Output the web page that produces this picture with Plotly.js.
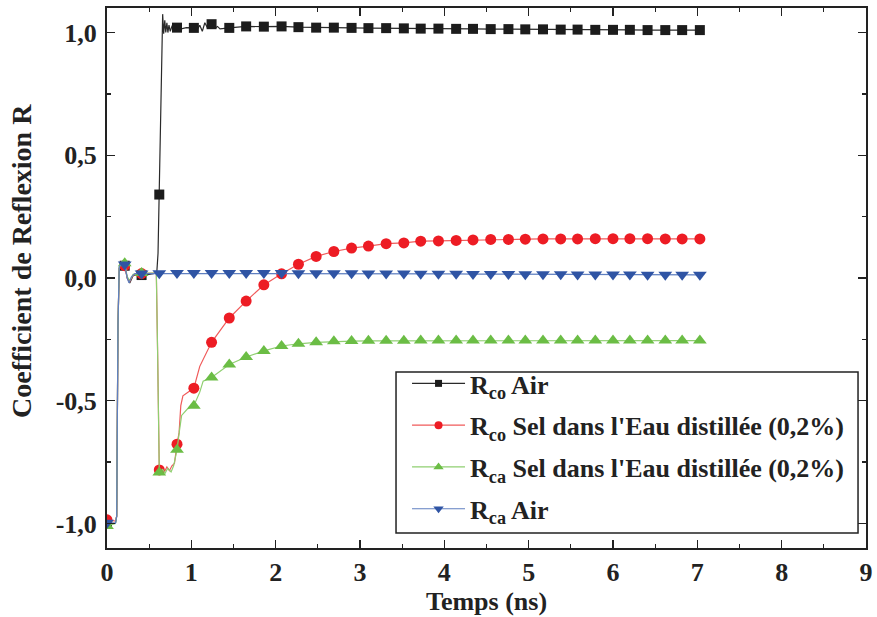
<!DOCTYPE html>
<html>
<head>
<meta charset="utf-8">
<script src="https://cdn.plot.ly/plotly-3.0.1.min.js"></script>
<style>html,body{margin:0;padding:0;background:#fff;}#chart{width:877px;height:617px;}</style>
</head>
<body>
<div id="chart"></div>
<script>
// ---- Data ----
// marker positions (ns), shared by all four series
var markT = [0, 0.21, 0.41, 0.62, 0.83, 1.03, 1.24, 1.45, 1.65, 1.86, 2.07, 2.27, 2.48, 2.69, 2.90, 3.10, 3.31, 3.52, 3.72, 3.93, 4.14, 4.34, 4.55, 4.76, 4.96, 5.17, 5.38, 5.58, 5.79, 6.00, 6.20, 6.41, 6.62, 6.82, 7.03];

var rcoAirMark = [-1.0, 0.05, 0.012, 0.34, 1.02, 1.019, 1.034, 1.019, 1.025, 1.024, 1.025, 1.022, 1.02, 1.02, 1.019, 1.018, 1.018, 1.017, 1.016, 1.016, 1.015, 1.015, 1.014, 1.014, 1.013, 1.013, 1.012, 1.012, 1.011, 1.011, 1.011, 1.01, 1.01, 1.01, 1.01];
var rcoSelMark = [-0.985, 0.05, 0.018, -0.782, -0.677, -0.449, -0.262, -0.163, -0.094, -0.028, 0.017, 0.056, 0.088, 0.108, 0.122, 0.130, 0.140, 0.143, 0.150, 0.151, 0.153, 0.155, 0.157, 0.157, 0.158, 0.159, 0.159, 0.159, 0.160, 0.160, 0.160, 0.160, 0.159, 0.159, 0.159];
var rcaSelMark = [-1.01, 0.06, 0.02, -0.792, -0.70, -0.52, -0.405, -0.352, -0.322, -0.297, -0.277, -0.268, -0.262, -0.258, -0.257, -0.256, -0.256, -0.256, -0.255, -0.255, -0.255, -0.255, -0.255, -0.255, -0.255, -0.255, -0.255, -0.255, -0.255, -0.255, -0.255, -0.255, -0.255, -0.255, -0.255];
var rcaAirMark = [-0.997, 0.055, 0.018, 0.019, 0.02, 0.02, 0.02, 0.02, 0.02, 0.02, 0.02, 0.019, 0.019, 0.019, 0.019, 0.018, 0.018, 0.018, 0.017, 0.017, 0.017, 0.016, 0.016, 0.016, 0.015, 0.015, 0.015, 0.014, 0.014, 0.014, 0.014, 0.013, 0.013, 0.013, 0.013];

// detailed early part of each recorded curve (transients between markers)
var rcoAirDetT = [0, 0.10, 0.115, 0.13, 0.145, 0.17, 0.21, 0.24, 0.27, 0.31, 0.36, 0.41, 0.50, 0.59, 0.605, 0.62, 0.645, 0.66, 0.672, 0.685, 0.697, 0.71, 0.722, 0.735, 0.75, 0.77, 0.80, 0.83, 0.88, 0.94, 1.03, 1.07, 1.10, 1.13, 1.16, 1.19, 1.24, 1.28, 1.31, 1.34, 1.45];
var rcoAirDetY = [-1.0, -1.0, -0.97, -0.2, 0.04, 0.055, 0.05, 0.0, -0.02, 0.01, 0.015, 0.012, 0.015, 0.02, 0.10, 0.34, 0.80, 1.075, 0.995, 1.05, 1.0, 1.04, 1.0, 1.03, 1.005, 1.025, 1.015, 1.02, 1.015, 1.02, 1.019, 1.012, 1.03, 1.005, 1.04, 1.02, 1.034, 1.018, 1.025, 1.015, 1.019];

var rcoSelDetT = [0, 0.10, 0.115, 0.13, 0.145, 0.17, 0.21, 0.24, 0.27, 0.31, 0.41, 0.50, 0.585, 0.60, 0.612, 0.62, 0.65, 0.68, 0.71, 0.74, 0.77, 0.80, 0.83, 0.855, 0.875, 0.90, 0.96, 1.03, 1.10, 1.24];
var rcoSelDetY = [-0.985, -0.99, -0.97, -0.2, 0.04, 0.06, 0.05, 0.0, -0.015, 0.012, 0.018, 0.02, 0.02, -0.3, -0.77, -0.782, -0.765, -0.79, -0.77, -0.785, -0.765, -0.755, -0.677, -0.63, -0.52, -0.48, -0.465, -0.449, -0.36, -0.262];

var rcaSelDetT = [0, 0.10, 0.115, 0.13, 0.145, 0.17, 0.21, 0.24, 0.27, 0.31, 0.41, 0.50, 0.585, 0.60, 0.612, 0.62, 0.66, 0.69, 0.72, 0.76, 0.79, 0.83, 0.86, 0.885, 0.95, 1.03, 1.10, 1.14, 1.24];
var rcaSelDetY = [-1.01, -1.0, -0.97, -0.2, 0.045, 0.065, 0.06, 0.005, -0.01, 0.015, 0.02, 0.02, 0.02, -0.3, -0.78, -0.792, -0.78, -0.795, -0.775, -0.79, -0.765, -0.70, -0.62, -0.56, -0.535, -0.52, -0.465, -0.42, -0.405];

var rcaAirDetT = [0, 0.10, 0.115, 0.13, 0.145, 0.17, 0.21, 0.24, 0.26, 0.29, 0.33, 0.41, 0.62];
var rcaAirDetY = [-0.997, -1.0, -0.97, -0.2, 0.045, 0.06, 0.055, 0.0, -0.02, 0.005, 0.018, 0.018, 0.019];

// names, titles and ticks
var seriesNames = ['R<sub>co</sub> Air', "R<sub>co</sub> Sel dans l'Eau distillée (0,2%)", "R<sub>ca</sub> Sel dans l'Eau distillée (0,2%)", 'R<sub>ca</sub> Air'];
var xTitle = 'Temps (ns)';
var yTitle = 'Coefficient de Reflexion R';
var xTickVals = [0, 1, 2, 3, 4, 5, 6, 7, 8, 9];
var yTickVals = [-1, -0.5, 0, 0.5, 1];
var yTickText = ['-1,0', '-0,5', '0,0', '0,5', '1,0'];

// ---- Build traces ----
function joinLine(detT, detY, mT, mY) {
  var last = detT[detT.length - 1];
  var x = detT.slice(), y = detY.slice();
  for (var i = 0; i < mT.length; i++) {
    if (mT[i] > last + 1e-9) { x.push(mT[i]); y.push(mY[i]); }
  }
  return {x: x, y: y};
}

var styles = [
  {line: '#2a2a2a', mark: '#1c1c1c', symbol: 'square', size: 10, lsize: 7},
  {line: '#f05a5a', mark: '#ed1c24', symbol: 'circle', size: 11, lsize: 8},
  {line: '#8fcf70', mark: '#6bbd45', symbol: 'triangle-up', size: 12, lsize: 9},
  {line: '#5f7fc0', mark: '#2f54a4', symbol: 'triangle-down', size: 12, lsize: 9}
];
var dets = [[rcoAirDetT, rcoAirDetY, rcoAirMark], [rcoSelDetT, rcoSelDetY, rcoSelMark], [rcaSelDetT, rcaSelDetY, rcaSelMark], [rcaAirDetT, rcaAirDetY, rcaAirMark]];

var traces = [];
for (var s = 0; s < 4; s++) {
  var ln = joinLine(dets[s][0], dets[s][1], markT, dets[s][2]);
  traces.push({x: ln.x, y: ln.y, mode: 'lines', type: 'scatter', showlegend: false, hoverinfo: 'skip',
    line: {color: styles[s].line, width: 1.2}, legendgroup: 'g' + s});
  traces.push({x: markT, y: dets[s][2], mode: 'markers', type: 'scatter', showlegend: false,
    marker: {color: styles[s].mark, symbol: styles[s].symbol, size: styles[s].size, line: {width: 0}}, legendgroup: 'g' + s});
}
// legend entries
for (var s = 0; s < 4; s++) {
  traces.push({x: [null], y: [null], mode: 'lines+markers', type: 'scatter', name: seriesNames[s], legendgroup: 'g' + s,
    line: {color: styles[s].line, width: 1.2},
    marker: {color: styles[s].mark, symbol: styles[s].symbol, size: styles[s].lsize, line: {width: 0}}});
}

var fontFam = '"Liberation Serif", serif';
var layout = {
  width: 877, height: 617,
  margin: {l: 107, r: 11, t: 8, b: 69},
  paper_bgcolor: '#fff', plot_bgcolor: '#fff',
  showlegend: true,
  xaxis: {
    range: [0, 9], tickvals: xTickVals, showgrid: false, zeroline: false,
    showline: true, linewidth: 2, linecolor: '#222', mirror: 'ticks',
    ticks: 'inside', ticklen: 8, tickwidth: 1.5, tickcolor: '#222',
    minor: {ticks: 'inside', ticklen: 4, tickwidth: 1.2, tickcolor: '#222', dtick: 0.5, tick0: 0},
    tickfont: {family: fontFam, size: 26, color: '#222', weight: 'bold'},
    ticklabelstandoff: 0,
    title: {text: xTitle, font: {family: fontFam, size: 26, color: '#222', weight: 'bold'}, standoff: 0}
  },
  yaxis: {
    range: [-1.1, 1.1], tickvals: yTickVals, ticktext: yTickText, showgrid: false, zeroline: false,
    showline: true, linewidth: 2, linecolor: '#222', mirror: 'ticks',
    ticks: 'inside', ticklen: 8, tickwidth: 1.5, tickcolor: '#222',
    minor: {ticks: 'inside', ticklen: 4, tickwidth: 1.2, tickcolor: '#222', dtick: 0.25, tick0: 0},
    tickfont: {family: fontFam, size: 26, color: '#222', weight: 'bold'},
    ticklabelstandoff: 3
  },
  annotations: [{text: yTitle, xref: 'paper', yref: 'paper', x: -0.112, y: 0.5315, xanchor: 'center', yanchor: 'middle',
    textangle: -90, showarrow: false, font: {family: fontFam, size: 28, color: '#222', weight: 'bold'}}],
  shapes: [{type: 'rect', xref: 'paper', yref: 'paper', x0: 0.3808, x1: 0.9895, y0: 0.0278, y1: 0.3259,
    fillcolor: '#fff', line: {color: '#222', width: 1.5}, layer: 'above'}],
  legend: {
    x: 0.3953, y: 0.3482, xanchor: 'left', yanchor: 'top',
    bgcolor: 'rgba(0,0,0,0)', borderwidth: 0,
    font: {family: fontFam, size: 26, color: '#222', weight: 'bold'},
    itemwidth: 53, tracegroupgap: 5, traceorder: 'grouped'
  }
};

Plotly.newPlot('chart', traces, layout, {displayModeBar: false, staticPlot: true});
</script>
</body>
</html>
